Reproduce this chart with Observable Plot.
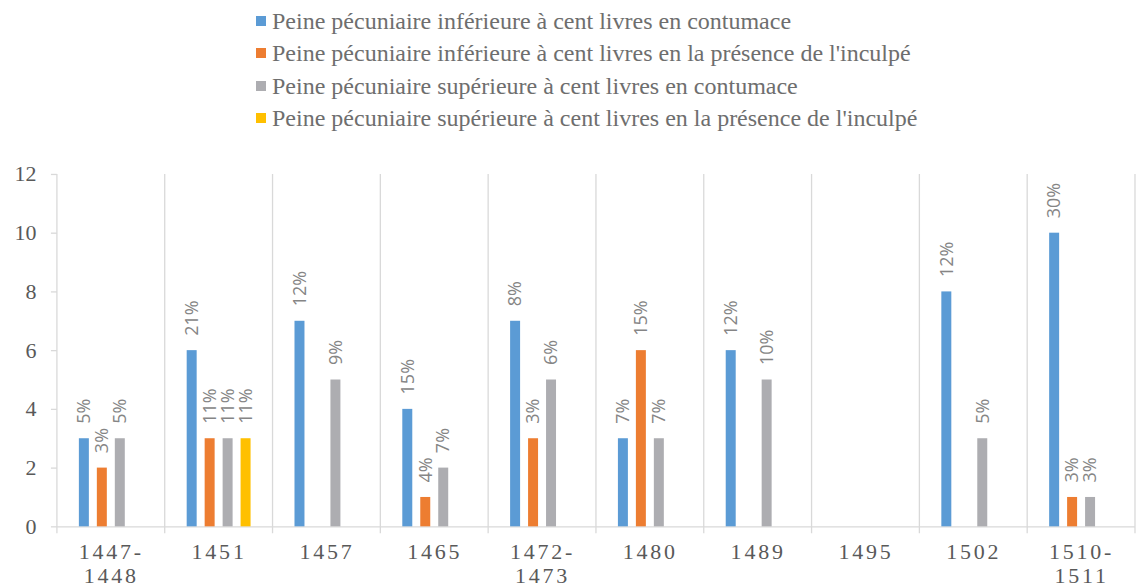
<!DOCTYPE html>
<html><head><meta charset="utf-8">
<script src="https://cdn.jsdelivr.net/npm/d3@7"></script>
<script src="https://cdn.jsdelivr.net/npm/@observablehq/plot@0.6"></script>
<style>
html,body{margin:0;padding:0;background:#fff;overflow:hidden;width:1139px;height:588px}
#legend{position:relative;height:150px;width:1139px;font-family:'Liberation Serif','Times New Roman',serif;color:#6e6e6e}
.item{position:absolute;left:256px;height:32px;display:flex;align-items:center;white-space:nowrap}
.sw{width:10px;height:10px;margin-right:6px;flex:none}
.lt{font-size:24px;line-height:32px}
#chart svg{overflow:visible}
</style></head><body>
<div id="legend"></div><div id="chart"></div>
<script>
const categories = ["1447-1448","1451","1457","1465","1472-1473","1480","1489","1495","1502","1510-1511"];
const seriesNames = [
  "Peine pécuniaire inférieure à cent livres en contumace",
  "Peine pécuniaire inférieure à cent livres en la présence de l'inculpé",
  "Peine pécuniaire supérieure à cent livres en contumace",
  "Peine pécuniaire supérieure à cent livres en la présence de l'inculpé"
];
const seriesColors = ["#5B9BD5","#ED7D31","#ADADB1","#FFC000"];
const infContumace   = [3, 6, 7, 4, 7, 3, 6, 0, 8, 10];
const infPresence    = [2, 3, 0, 1, 3, 6, 0, 0, 0, 1];
const supContumace   = [3, 3, 5, 2, 5, 3, 5, 0, 3, 1];
const supPresence    = [0, 3, 0, 0, 0, 0, 0, 0, 0, 0];
const infContumacePct = ["5%","21%","12%","15%","8%","7%","12%","","12%","30%"];
const infPresencePct  = ["3%","11%","","4%","3%","15%","","","","3%"];
const supContumacePct = ["5%","11%","9%","7%","6%","7%","10%","","5%","3%"];
const supPresencePct  = ["","11%","","","","","","","",""];
const yTicks = [0, 2, 4, 6, 8, 10, 12];

const valueSets = [infContumace, infPresence, supContumace, supPresence];
const pctSets = [infContumacePct, infPresencePct, supContumacePct, supPresencePct];
const rows = [];
seriesNames.forEach((s, si) => categories.forEach((c, ci) => {
  if (valueSets[si][ci] > 0) rows.push({cat: c, series: s, value: valueSets[si][ci], pct: pctSets[si][ci]});
}));

// legend
const legend = document.getElementById("legend");
seriesNames.forEach((s, i) => {
  const it = document.createElement("div");
  it.className = "item";
  it.style.top = (5 + i * 32.4) + "px";
  it.innerHTML = `<span class="sw" style="background:${seriesColors[i]}"></span><span class="lt"></span>`;
  it.querySelector(".lt").textContent = s;
  legend.appendChild(it);
});

const serif = "'Liberation Serif', 'Times New Roman', serif";
const chart = Plot.plot({
  width: 1141,
  height: 438,
  marginTop: 24,
  marginBottom: 61,
  marginLeft: 53,
  marginRight: 0,
  style: `font-family: ${serif}; background: #fff;`,
  fx: {domain: categories, padding: 0},
  x: {domain: seriesNames, paddingInner: 0.45, paddingOuter: 1.13, axis: null},
  y: {domain: [0, 12]},
  color: {domain: seriesNames, range: seriesColors},
  marks: [
    Plot.ruleY(categories, {fx: d => d, y: () => 0, stroke: "#d9d9d9", strokeWidth: 1.3}),
    Plot.barY(rows, {fx: "cat", x: "series", y: "value", fill: "series"}),
    Plot.text(rows, {fx: "cat", x: "series", y: "value", text: "pct", rotate: -90, textAnchor: "start", lineAnchor: "middle", dy: -15, fill: "#858585", fontSize: 18, fontFamily: "'Open Sans', sans-serif"}),
    Plot.axisY({ticks: yTicks, tickSize: 6, tickPadding: 15, fontSize: 22, fontFamily: serif, stroke: "#d9d9d9", strokeWidth: 1.3, fill: "#595959", label: null}),
    Plot.axisFx({anchor: "bottom", tickSize: 0, tickPadding: 16, fontSize: 22, lineHeight: 1.07, fontFamily: serif, fill: "#595959", label: null, tickFormat: d => d.replace("-", "-\n")})
  ]
});
document.getElementById("chart").appendChild(chart);

// category separator lines from the fx / y scales
const fx = chart.scale("fx"), ys = chart.scale("y");
const bounds = categories.map(c => fx.apply(c)).concat([fx.apply(categories[categories.length - 1]) + fx.bandwidth]);
d3.select(chart).insert("g", "g").attr("stroke", "#d9d9d9").attr("stroke-width", 1.3)
  .selectAll("line").data(bounds).join("line")
  .attr("x1", d => d).attr("x2", d => d)
  .attr("y1", ys.apply(12)).attr("y2", ys.apply(0) + 7);
d3.select(chart).selectAll('[aria-label="fx-axis tick label"] text').style("letter-spacing", "2.8px");
</script>
</body></html>
